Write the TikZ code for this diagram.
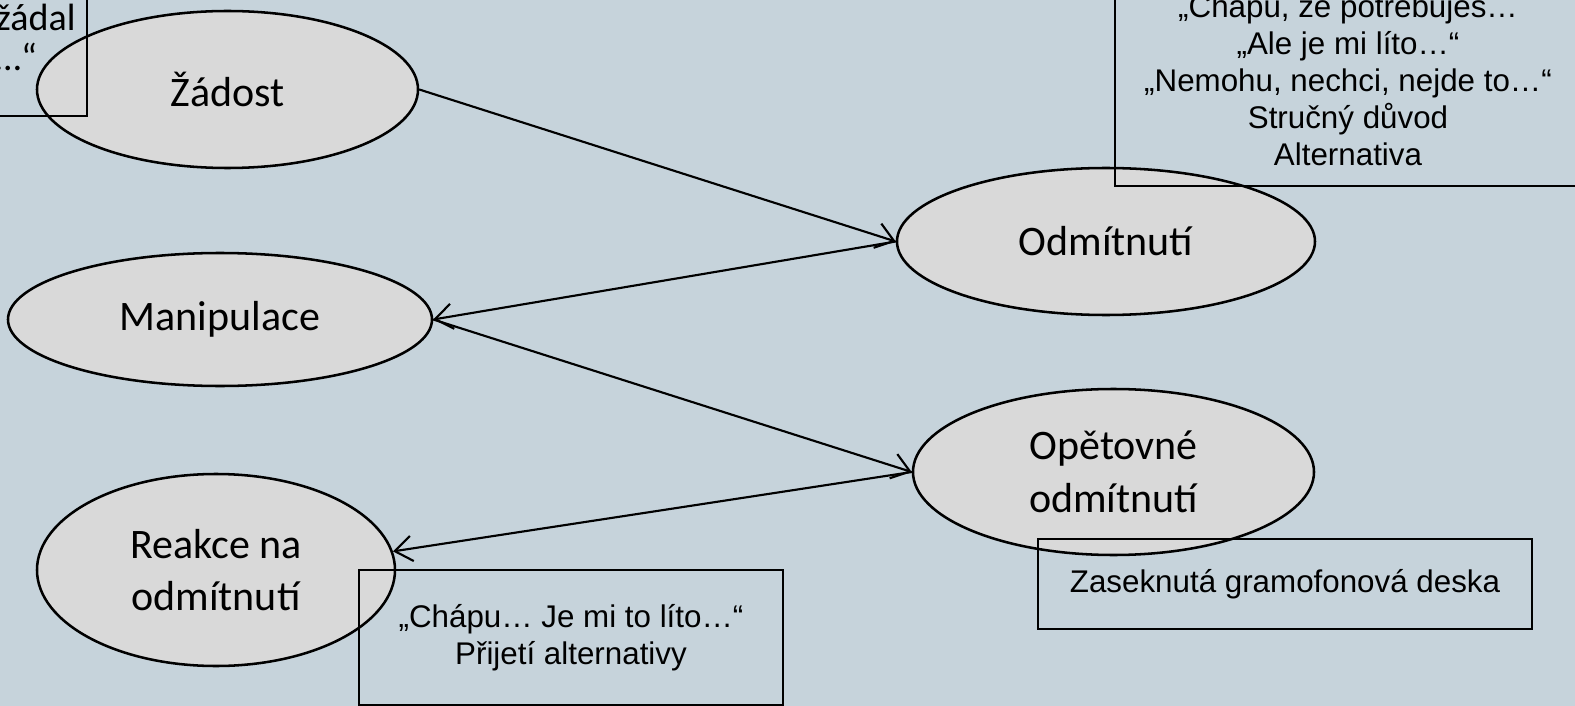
\documentclass[tikz,border=0pt]{standalone}
\usepackage{fontspec}
\setmainfont{Carlito}
\newfontfamily\arialfont{Liberation Sans}
\usetikzlibrary{shapes.geometric,arrows.meta}
\definecolor{slidebg}{RGB}{198,211,219}
\definecolor{bubblegray}{RGB}{217,217,217}
\begin{document}
\begin{tikzpicture}[x=0.75pt,y=-0.75pt,>={Straight Barb[length=13pt,width=19pt]},
		bubble/.style={ellipse,draw,fill=bubblegray,line width=1.9pt,inner sep=0pt,align=center,font=\fontsize{31.5}{39.5}\selectfont},
		note/.style={draw,line width=1.2pt,inner sep=0pt,align=center,font=\arialfont\fontsize{23.5}{27.8}\selectfont},
		link/.style={->,line width=1.6pt,line cap=round}]
	\useasboundingbox (0,0) rectangle (1575,706);
	\fill[slidebg] (0,0) rectangle (1575,706);
	% ovaly
	\node[bubble,minimum width=285.75pt,minimum height=117.75pt] (zadost) at (227.5,89.5) {Žádost};
	\node[bubble,minimum width=313.5pt,minimum height=110.25pt] (odmit) at (1106,241.5) {Odmítnutí};
	\node[bubble,minimum width=318pt,minimum height=99.75pt] (manip) at (220,319.5) {Manipulace};
	\node[bubble,minimum width=300.75pt,minimum height=124.5pt] (opet) at (1113.5,472) {Opětovné\\odmítnutí};
	\node[bubble,minimum width=268.5pt,minimum height=144pt] (reakce) at (216,570) {Reakce na\\odmítnutí};
	% sipky
	\draw[link] (zadost.east) -- (odmit.west);
	\draw[link] (odmit.west) -- (manip.east);
	\draw[link] (manip.east) -- (opet.west);
	\draw[link] (opet.west) -- (reakce.6);
	% ramecky
	\node[note,minimum width=106.5pt,minimum height=117.75pt,font=\fontsize{28.5}{30}\selectfont] (pozadal) at (16,37.5) {požádal\\…“};
	\node[note,minimum width=349.5pt,minimum height=159pt] (frazeA) at (1348,80) {„Chápu, že potřebuješ…\\„Ale je mi líto…“\\„Nemohu, nechci, nejde to…“\\Stručný důvod\\Alternativa};
	\node[note,minimum width=318pt,minimum height=101.25pt] (frazeB) at (571,637.5) {„Chápu… Je mi to líto…“\\Přijetí alternativy};
	\node[note,minimum width=370.5pt,minimum height=67.5pt] (deska) at (1285,584) {Zaseknutá gramofonová deska};
\end{tikzpicture}
\end{document}
